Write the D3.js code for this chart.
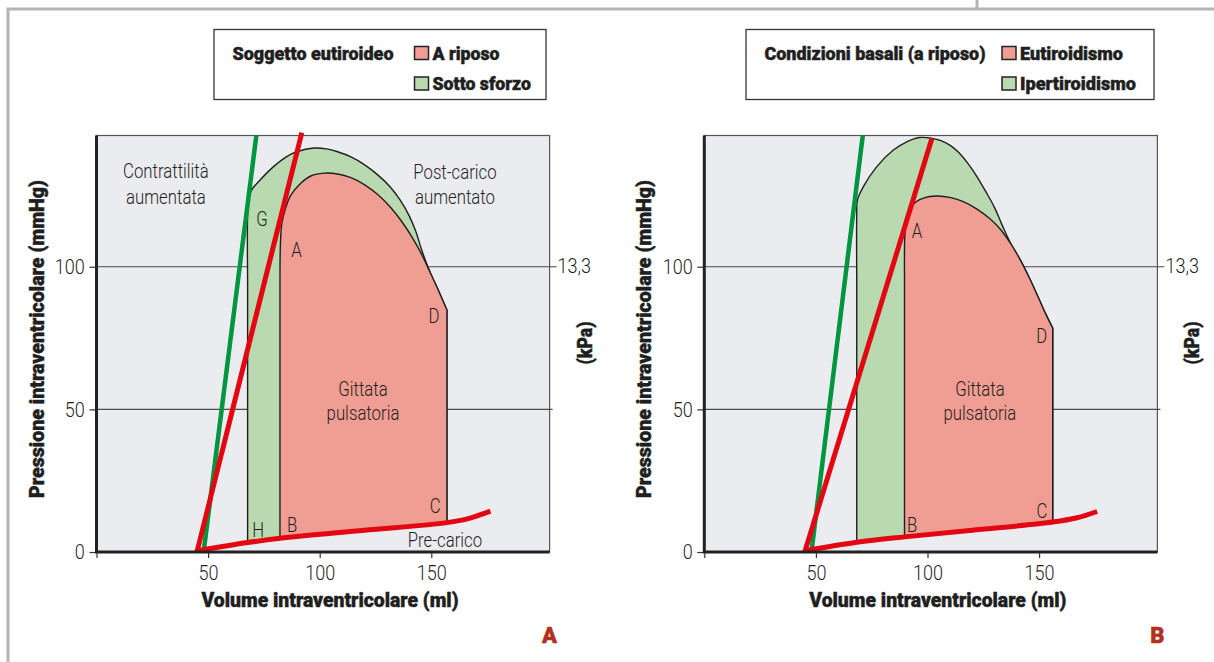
<!DOCTYPE html>
<html>
<head>
<meta charset="utf-8">
<script src="https://d3js.org/d3.v7.min.js"></script>
<style>
  body { margin: 0; background: #fff; }
  svg { display: block; }
</style>
</head>
<body>
<script>
// ---- data (volume ml, pressure mmHg) ----
var xTicks = [0, 50, 100, 150];
var yTicks = [0, 50, 100];
var kpaTicks = [[100, "13,3"]];

var xTitle = "Volume intraventricolare (ml)";
var yTitle = "Pressione intraventricolare (mmHg)";
var kpaTitle = "(kPa)";

// panel A: soggetto eutiroideo, a riposo / sotto sforzo
var espvrRestA = [[45, 0], [92, 147]];
var espvrExA = [[48, 0], [71.6, 146]];
var edpvrA = [[45, 0.4], [67.7, 3.3], [82.2, 4.8], [120, 7.6], [157, 10.3], [167, 11.8], [176.5, 14.3]];
var restLoopA = [[82.2, 4.8], [82.2, 96], [82.4, 108], [83, 115], [84.5, 120], [87, 125], [91.4, 129.2],
  [96, 131.8], [102, 132.8], [108, 132.5], [114, 131.2], [120, 128.8], [126, 125.3], [132, 120.6],
  [137, 115.6], [141.5, 110.2], [145.5, 104.6], [149.5, 98], [153.3, 91.5], [157, 84.8], [157, 10.3]];
var exLoopA = [[67.7, 3.3], [67.7, 96], [67.7, 118], [68.2, 123.5], [69.5, 126.9], [73.3, 130.4],
  [79.2, 135], [85.2, 138.6], [89.7, 140.3], [97.4, 141.6], [103, 141.3], [108, 140.3], [114, 138.5],
  [120, 135.8], [126, 132.2], [131.8, 127.8], [136, 123.4], [140, 118], [143, 112.5], [145.8, 105.6],
  [149.5, 98], [153.3, 91.5], [157, 84.8], [157, 10.3]];
var labelsA = [
  ["Contrattilità", 31.1, 131.2], ["aumentata", 31.1, 122.1],
  ["Post-carico", 160.6, 130.8], ["aumentato", 160.6, 122.1],
  ["Gittata", 119.4, 54.7], ["pulsatoria", 119.4, 46.3],
  ["G", 74.1, 114.3], ["A", 89.6, 103.5], ["D", 151.2, 80.3],
  ["H", 72.4, 5.4], ["B", 87.6, 7.1], ["C", 151.7, 13.8], ["Pre-carico", 156.1, 1.9]
];
var legendTitleA = "Soggetto eutiroideo";
var legendItemsA = ["A riposo", "Sotto sforzo"];

// panel B: condizioni basali, eutiroidismo / ipertiroidismo
var espvrRestB = [[45, 0], [102, 145]];
var espvrExB = [[48, 0], [71, 146]];
var edpvrB = [[45, 0.4], [68.3, 3.4], [89.7, 5.3], [120, 7.6], [156.1, 10.5], [167, 12], [176, 14.2]];
var restLoopB = [[89.7, 5.3], [89.7, 96], [89.8, 110], [90.3, 115], [91.5, 119.6], [93.5, 121.8],
  [96.5, 123.5], [101, 124.6], [104.5, 124.8], [110, 124.3], [116, 122.8], [122, 120.3], [128, 116.8],
  [133, 112.8], [137.5, 107.8], [141.5, 102.5], [145.5, 96.3], [149.5, 89.5], [153, 83.4],
  [156.1, 78.5], [156.1, 10.5]];
var exLoopB = [[68.3, 3.4], [68.3, 96], [68.3, 118], [68.6, 123.4], [71.2, 128], [77.2, 135],
  [84.7, 140.9], [90.7, 143.8], [96.5, 145.3], [102, 145], [106, 144.2], [110, 142.6], [114, 140],
  [118, 136.3], [122, 131.8], [126, 126.5], [130, 120.8], [133.5, 114.5], [137.5, 107.8],
  [141.5, 102.5], [145.5, 96.3], [149.5, 89.5], [153, 83.4], [156.1, 78.5], [156.1, 10.5]];
var labelsB = [
  ["Gittata", 123.5, 54.7], ["pulsatoria", 123.5, 46.3],
  ["A", 95.3, 110], ["D", 151.2, 73.2], ["B", 93.1, 7.1], ["C", 151.3, 11.8]
];
var legendTitleB = "Condizioni basali (a riposo)";
var legendItemsB = ["Eutiroidismo", "Ipertiroidismo"];

// ---- styles ----
var RED = "#e30613", GREEN = "#00963f";
var RED_FILL = "#f09e93", GREEN_FILL = "#b9d9b0";
var BG = "#ebecef", INK = "#1f1f1f";
var LIGHT = "Roboto, 'Open Sans', sans-serif";
var BOLD = "Roboto, 'Liberation Sans', sans-serif";

var svg = d3.select("body").append("svg")
    .attr("width", 1214)
    .attr("height", 662);

// page frame
svg.append("path")
    .attr("d", "M8,662 V9 H1214 M977,0 V9")
    .attr("fill", "none")
    .attr("stroke", "#b4b4b4")
    .attr("stroke-width", 3);

function lightText(g, s, px, py, size, anchor) {
    return g.append("text")
        .attr("transform", "translate(" + px + "," + py + ") scale(0.86,1)")
        .attr("text-anchor", anchor || "middle")
        .style("font-family", LIGHT)
        .style("font-weight", 300)
        .style("font-size", size + "px")
        .attr("fill", INK)
        .text(s);
}

// heavy condensed look: bold face squeezed to width and thickened a bit
function boldText(g, s, px, py, size, w, rot) {
    var t = g.append("text")
        .attr("transform", "translate(" + px + "," + py + ")" + (rot ? " rotate(-90)" : ""))
        .attr("text-anchor", rot ? "middle" : "start")
        .style("font-family", BOLD)
        .style("font-weight", 900)
        .style("font-size", size + "px")
        .attr("fill", INK)
        .attr("stroke", INK)
        .attr("stroke-width", 0.45)
        .text(s);
    if (w) t.attr("textLength", w).attr("lengthAdjust", "spacingAndGlyphs");
    return t;
}

function drawPanel(p) {
    var x = d3.scaleLinear().domain([0, 203]).range([p.left, p.left + 203 * 2.232]);
    var y = d3.scaleLinear().domain([0, 146]).range([552, 135.5]);
    var g = svg.append("g");

    var line = d3.line().x(function(d) { return x(d[0]); }).y(function(d) { return y(d[1]); });
    var smooth = d3.line().x(function(d) { return x(d[0]); }).y(function(d) { return y(d[1]); })
        .curve(d3.curveCatmullRom.alpha(0.5));

    // plot background
    g.append("rect")
        .attr("x", x(0)).attr("y", y(146))
        .attr("width", x(203) - x(0)).attr("height", y(0) - y(146))
        .attr("fill", BG)
        .attr("stroke", "#555")
        .attr("stroke-width", 1.2);

    // gridlines (behind loops), with short right ticks
    yTicks.filter(function(d) { return d > 0; }).forEach(function(v) {
        var kp = kpaTicks.filter(function(k) { return k[0] === v; })[0];
        g.append("line")
            .attr("x1", x(0)).attr("x2", x(203) + (kp ? 7 : 3))
            .attr("y1", y(v)).attr("y2", y(v))
            .attr("stroke", "#4a4a4a").attr("stroke-width", 1.1);
        if (kp) {
            lightText(g, kp[1], x(203) + 8, y(v), 21, "start").attr("dy", "0.32em");
        }
    });

    // pressure-volume loops
    function loopPath(pts, edpvr) {
        var n = pts.length;
        var a = pts[0][0], b = pts[n - 1][0];
        var base = edpvr.filter(function(d) { return d[0] > a && d[0] < b; }).reverse();
        var parts = [
            line([pts[0], pts[1]]),
            smooth(pts.slice(1, n - 1)),
            line([pts[n - 2], pts[n - 1]].concat(base).concat([pts[0]]))
        ];
        return parts.map(function(d, i) { return i ? d.replace(/^M/, "L") : d; }).join("") + "Z";
    }

    g.append("path")
        .attr("d", loopPath(p.exLoop, p.edpvr))
        .attr("fill", GREEN_FILL)
        .attr("stroke", INK).attr("stroke-width", 1.4).attr("stroke-linejoin", "round");
    g.append("path")
        .attr("d", loopPath(p.restLoop, p.edpvr))
        .attr("fill", RED_FILL)
        .attr("stroke", INK).attr("stroke-width", 1.4).attr("stroke-linejoin", "round");

    // end-systolic and end-diastolic relations
    g.append("path").attr("d", line(p.espvrEx))
        .attr("fill", "none").attr("stroke", GREEN).attr("stroke-width", 4.5);
    g.append("path").attr("d", line(p.espvrRest))
        .attr("fill", "none").attr("stroke", RED).attr("stroke-width", 5);
    g.append("path").attr("d", smooth(p.edpvr))
        .attr("fill", "none").attr("stroke", RED).attr("stroke-width", 5);

    // axes
    var xAxis = g.append("g")
        .attr("transform", "translate(0," + y(0) + ")")
        .call(d3.axisBottom(x).tickValues(xTicks).tickSize(6).tickPadding(7)
            .tickFormat(function(d) { return d ? d : ""; }));
    var yAxis = g.append("g")
        .attr("transform", "translate(" + x(0) + ",0)")
        .call(d3.axisLeft(y).tickValues(yTicks).tickSize(7).tickPadding(5));
    [xAxis, yAxis].forEach(function(ax) {
        ax.select(".domain").remove();
        ax.selectAll(".tick line").attr("stroke", "#333").attr("stroke-width", 1.2);
        ax.selectAll(".tick text")
            .style("font-family", LIGHT).style("font-weight", 300).style("font-size", "21px")
            .attr("fill", INK);
    });
    xAxis.selectAll(".tick text").attr("transform", "scale(0.86,1)");
    yAxis.selectAll(".tick text").attr("x", -13.5).attr("transform", "scale(0.86,1)");

    g.append("path")
        .attr("d", "M" + x(0) + "," + y(146) + "V" + y(0) + "H" + x(203))
        .attr("fill", "none").attr("stroke", "#222").attr("stroke-width", 3);

    // annotations
    p.labels.forEach(function(l) {
        lightText(g, l[0], x(l[1]), y(l[2]), 19.5);
    });

    // axis titles
    boldText(g, xTitle, x(0) + p.xTitleOff, 607, 20, 257);
    boldText(g, yTitle, p.left - 53, 339, 20, 318, true);
    boldText(g, kpaTitle, x(203) + 42, 343, 20, 43, true);

    // panel letter
    g.append("text")
        .attr("x", x(203)).attr("y", 643)
        .attr("text-anchor", "middle")
        .style("font-family", BOLD).style("font-weight", 900).style("font-size", "22px")
        .attr("fill", "#b3301f")
        .attr("stroke", "#b3301f").attr("stroke-width", 0.5)
        .text(p.letter);

    // legend
    var lg = svg.append("g");
    lg.append("rect")
        .attr("x", p.legend.x).attr("y", 29.5)
        .attr("width", p.legend.w).attr("height", 70)
        .attr("fill", "#fff").attr("stroke", "#333").attr("stroke-width", 1.3);
    boldText(lg, p.legendTitle, p.legend.x + 18.5, 59.5, 17.5, p.legend.titleW);
    p.legendItems.forEach(function(s, i) {
        var yy = 46.5 + i * 30.5;
        lg.append("rect")
            .attr("x", p.legend.sx).attr("y", yy)
            .attr("width", 14).attr("height", 13)
            .attr("fill", i ? GREEN_FILL : RED_FILL)
            .attr("stroke", "#222").attr("stroke-width", 1.5);
        boldText(lg, s, p.legend.sx + 18, yy + 13, 17.5, p.legend.itemW[i]);
    });
}

drawPanel({
    left: 96.5, letter: "A", xTitleOff: 105,
    espvrRest: espvrRestA, espvrEx: espvrExA, edpvr: edpvrA,
    restLoop: restLoopA, exLoop: exLoopA, labels: labelsA,
    legendTitle: legendTitleA, legendItems: legendItemsA,
    legend: { x: 214, w: 332, sx: 414.5, titleW: 161, itemW: [67, 98.5] }
});
drawPanel({
    left: 704.3, letter: "B", xTitleOff: 105,
    espvrRest: espvrRestB, espvrEx: espvrExB, edpvr: edpvrB,
    restLoop: restLoopB, exLoop: exLoopB, labels: labelsB,
    legendTitle: legendTitleB, legendItems: legendItemsB,
    legend: { x: 746, w: 408, sx: 1002, titleW: 221, itemW: [103, 116] }
});
</script>
</body>
</html>
